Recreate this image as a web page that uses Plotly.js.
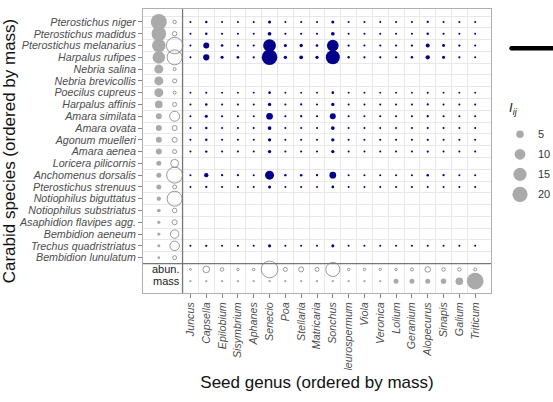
<!DOCTYPE html>
<html>
<head>
<meta charset="utf-8">
<script src="https://cdn.plot.ly/plotly-3.0.1.min.js"></script>
<style>html,body{margin:0;padding:0;background:#fff;}#chart{width:553px;height:402px;}</style>
</head>
<body>
<div id="chart"></div>
<script>
// ---------- DATA ----------
const species = ["Pterostichus niger","Pterostichus madidus","Pterostichus melanarius","Harpalus rufipes",
  "Nebria salina","Nebria brevicollis","Poecilus cupreus","Harpalus affinis","Amara similata","Amara ovata",
  "Agonum muelleri","Amara aenea","Loricera pilicornis","Anchomenus dorsalis","Pterostichus strenuus",
  "Notiophilus biguttatus","Notiophilus substriatus","Asaphidion flavipes agg.","Bembidion aeneum",
  "Trechus quadristriatus","Bembidion lunulatum"];

const genera = ["Juncus","Capsella","Epilobium","Sisymbrium","Aphanes","Senecio","Poa","Stellaria",
  "Matricaria","Sonchus","leurospermum","Viola","Veronica","Lolium","Geranium","Alopecurus","Sinapis",
  "Galium","Triticum"];

// carabid body mass and abundance (relative index, same size scale as I_ij)
const carabidMass = [22.1,18.2,15.8,13.5,7.0,7.0,7.0,5.1,3.1,3.1,3.1,3.1,2.16,2.16,2.16,1.6,1.18,0.94,0.94,0.78,0.63];
const carabidAbun = [1.06,1.75,23.5,19.5,0.78,1.38,0.78,1.38,8.65,2.16,2.16,1.38,5.5,22.1,1.38,19.5,1.75,2.16,6.25,7.8,1.38];

// seed abundance and seed mass (relative index)
const seedAbun = [0.35,3.9,1.06,0.54,0.54,24.1,1.38,2.16,1.38,17,0.54,0.54,0.54,0.54,0.78,2.6,1.06,1.06,0.78];
const seedMass = [0.46,0.46,0.46,0.46,0.46,0.46,0.46,0.46,0.46,0.46,0.46,0.46,0.46,2.16,2.16,2.16,2.6,5.1,24.1];

// interaction strength I_ij (rows = species, cols = genera); null = no interaction row
const interactions = [
  [0.35,0.5,0.35,0.35,0.35,0.8,0.35,0.35,0.35,0.8,0.35,0.35,0.35,0.35,0.35,0.45,0.35,0.35,0.35],
  [0.35,0.55,0.4,0.35,0.35,1.2,0.4,0.4,0.4,1.2,0.35,0.35,0.35,0.35,0.35,0.5,0.4,0.35,0.35],
  [0.35,3.1,0.6,0.45,0.4,14,0.8,0.95,0.6,11.8,0.45,0.4,0.4,0.4,0.45,1.4,0.75,0.45,0.35],
  [0.35,3.4,0.8,0.6,0.45,21,0.95,1.2,0.95,17,0.5,0.45,0.45,0.45,0.5,1.6,0.8,0.45,0.35],
  null,
  null,
  [0.3,0.35,0.3,0.3,0.3,0.6,0.3,0.3,0.3,0.6,0.3,0.3,0.3,0.3,0.3,0.35,0.3,0.3,0.3],
  [0.35,0.55,0.35,0.35,0.35,0.95,0.35,0.4,0.35,0.95,0.35,0.35,0.35,0.35,0.35,0.4,0.35,0.35,0.35],
  [0.35,0.8,0.4,0.35,0.35,3.9,0.4,0.45,0.4,3.1,0.35,0.35,0.35,0.35,0.35,0.45,0.4,0.35,0.35],
  [0.35,0.5,0.35,0.35,0.35,1.2,0.35,0.35,0.35,1.2,0.35,0.35,0.35,0.35,0.35,0.4,0.35,0.35,0.35],
  [0.35,0.5,0.35,0.35,0.35,0.95,0.35,0.35,0.35,0.95,0.35,0.35,0.35,0.35,0.35,0.4,0.35,0.35,0.35],
  [0.35,0.5,0.35,0.35,0.35,0.95,0.35,0.35,0.35,0.95,0.35,0.35,0.35,0.35,0.35,0.4,0.35,0.35,0.35],
  null,
  [0.35,1.6,0.45,0.4,0.35,7,0.5,0.55,0.45,3.9,0.35,0.35,0.35,0.35,0.35,0.55,0.45,0.35,0.35],
  [0.35,0.45,0.35,0.35,0.35,0.8,0.35,0.35,0.35,0.65,0.35,0.35,0.35,0.35,0.35,0.35,0.35,0.35,0.35],
  null,
  null,
  null,
  null,
  [0.35,0.45,0.35,0.35,0.35,0.8,0.35,0.35,0.35,0.8,0.35,0.35,0.35,0.35,0.35,0.35,0.35,0.35,0.35],
  null
];

const legendVals = [5,10,15,20];
const rowLabels = ["abun.","mass"];

// ---------- STYLE / LAYOUT ----------
const FONT = "Liberation Sans, Arial, Helvetica, sans-serif";
const sizeFn = v => 3.4*Math.sqrt(v);
const GREY = "#aaaaaa", OPEN = "#7f7f7f", BLUE = "#00008b";

const speciesPos = species.map((s,i)=>i+1);
const generaPos = genera.map((g,i)=>i+1);
const massCol = -1, abunCol = 0;
const abunRow = species.length+1, massRow = species.length+2;

const traces = [];
// carabid mass
traces.push({x: species.map(()=>massCol), y: speciesPos, mode:"markers", type:"scatter",
  marker:{size: carabidMass.map(sizeFn), color: GREY, opacity:1, line:{width:0}}, hoverinfo:"skip"});
// carabid abundance
traces.push({x: species.map(()=>abunCol), y: speciesPos, mode:"markers", type:"scatter",
  marker:{symbol:"circle-open", size: carabidAbun.map(sizeFn), color: OPEN, opacity:1, line:{width:0.8, color: OPEN}}, hoverinfo:"skip"});
// interactions
const ix=[], iy=[], is=[];
interactions.forEach((row,i)=>{ if(!row) return; row.forEach((v,j)=>{ ix.push(j+1); iy.push(i+1); is.push(sizeFn(v)); }); });
traces.push({x: ix, y: iy, mode:"markers", type:"scatter",
  marker:{size: is, color: BLUE, opacity:1, line:{width:0}}, hoverinfo:"skip"});
// seed abundance
traces.push({x: generaPos, y: genera.map(()=>abunRow), mode:"markers", type:"scatter",
  marker:{symbol:"circle-open", size: seedAbun.map(sizeFn), color: OPEN, opacity:1, line:{width:0.8, color: OPEN}}, hoverinfo:"skip"});
// seed mass
traces.push({x: generaPos, y: genera.map(()=>massRow), mode:"markers", type:"scatter",
  marker:{size: seedMass.map(sizeFn), color: GREY, opacity:1, line:{width:0}}, hoverinfo:"skip"});
// legend symbols (pixel-like layout axis)
const legY0 = 134.3, legDy = 20, legX = 520;
traces.push({x: legendVals.map(()=>legX), y: legendVals.map((v,i)=>legY0+i*legDy), xaxis:"x2", yaxis:"y2",
  mode:"markers", type:"scatter", marker:{size: legendVals.map(sizeFn), color: GREY, opacity:1, line:{width:0}}, hoverinfo:"skip"});

const annotations = [];
rowLabels.forEach((t,i)=>annotations.push({x:0.45, y: abunRow+i, xref:"x", yref:"y", text:t, showarrow:false,
  xanchor:"right", yanchor:"middle", font:{family:FONT, size:11, color:"#1a1a1a"}}));
legendVals.forEach((v,i)=>annotations.push({x:535.5, y: legY0+i*legDy, xref:"x2", yref:"y2", text:String(v),
  showarrow:false, xanchor:"left", yanchor:"middle", font:{family:FONT, size:11, color:"#333"}}));
annotations.push({x:507, y:108, xref:"x2", yref:"y2", text:"<i>I</i><sub><i>ij</i></sub>", showarrow:false,
  xanchor:"left", yanchor:"middle", font:{family:FONT, size:13, color:"#222"}});

const shapes = [
  {type:"line", xref:"x", yref:"y", x0:0.5, x1:0.5, y0:-0.1, y1:massRow+1, line:{color:"#777", width:1.3}, layer:"between"},
  {type:"line", xref:"x", yref:"y", x0:-2, x1:genera.length+1, y0:species.length+0.5, y1:species.length+0.5, line:{color:"#777", width:1.3}, layer:"between"},
  {type:"line", xref:"x2", yref:"y2", x0:511.5, x1:560, y0:48.3, y1:48.3, line:{color:"#000", width:4.4}},
  {type:"circle", xref:"x2", yref:"y2", x0:509.3, x1:513.7, y0:46.1, y1:50.5, fillcolor:"#000", line:{width:0}}
];

const tickFont = {family:FONT, size:10.7, color:"#4d4d4d", style:"italic"};
const layout = {
  width:553, height:402,
  margin:{l:143, r:0, t:9, b:109, pad:0},
  paper_bgcolor:"#fff", plot_bgcolor:"#fff",
  showlegend:false,
  font:{family:FONT},
  xaxis:{domain:[0, 348/410], range:[-2, genera.length+1], tickmode:"array", tickvals: generaPos, ticktext: genera,
    tickangle:-90, tickfont: tickFont, ticks:"outside", ticklen:4, tickwidth:0.7, tickcolor:"#4d4d4d",
    showgrid:false, zeroline:false, showline:true, mirror:true, linecolor:"#b0b0b0", linewidth:1,
    minor:{tickmode:"array", tickvals: genera.slice(1).map((g,i)=>i+1.5), showgrid:true, gridcolor:"#e2e2e2", gridwidth:0.8, ticks:""},
    title:{text:"Seed genus (ordered by mass)", font:{family:FONT, size:17, color:"#111"}, standoff:6},
    fixedrange:true},
  yaxis:{domain:[0,1], range:[massRow+1, -0.1], tickmode:"array", tickvals: speciesPos, ticktext: species,
    tickfont: tickFont, ticks:"outside", ticklen:4, tickwidth:0.7, tickcolor:"#4d4d4d",
    showgrid:false, zeroline:false, showline:true, mirror:true, linecolor:"#b0b0b0", linewidth:1,
    minor:{tickmode:"array", tickvals: species.map((s,i)=>i+0.5), showgrid:true, gridcolor:"#e2e2e2", gridwidth:0.8, ticks:""},
    title:{text:"Carabid species (ordered by mass)", font:{family:FONT, size:17, color:"#111"}, standoff:0},
    fixedrange:true},
  xaxis2:{domain:[348/410+0.0005, 1], range:[491.2, 553], anchor:"y2", visible:false, fixedrange:true},
  yaxis2:{domain:[0,1], range:[293, 9], anchor:"x2", visible:false, fixedrange:true},
  annotations: annotations,
  shapes: shapes
};

Plotly.newPlot("chart", traces, layout, {staticPlot:true, displayModeBar:false});
</script>
</body>
</html>
